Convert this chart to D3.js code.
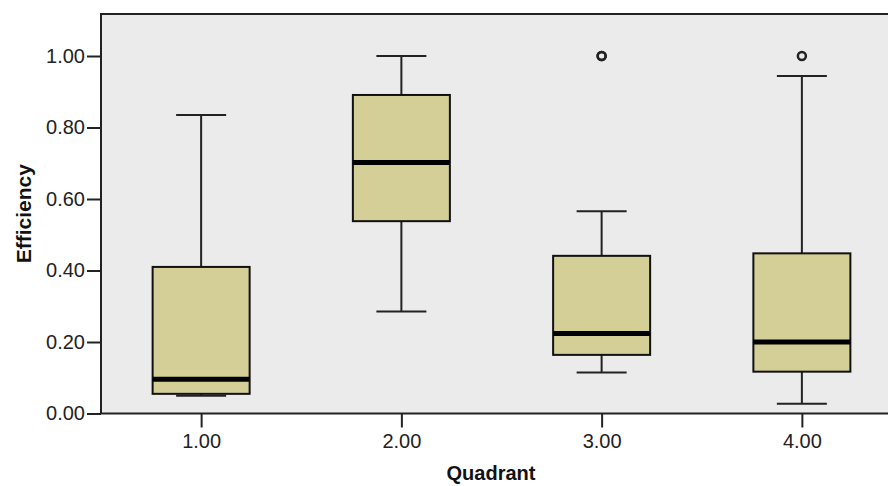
<!DOCTYPE html>
<html>
<head>
<meta charset="utf-8">
<script src="https://cdn.jsdelivr.net/npm/d3@7"></script>
<style>
  body { margin: 0; background: #fff; }
  svg { display: block; font-family: "Liberation Sans", Arial, sans-serif; }
</style>
</head>
<body>
<svg id="chart" width="888" height="486"></svg>
<script>
// quadrant categories and box statistics
const quadrants = ['1.00', '2.00', '3.00', '4.00'];
const lowWhisker = [0.050, 0.285, 0.115, 0.027];
const q1 = [0.055, 0.538, 0.164, 0.117];
const median = [0.096, 0.702, 0.224, 0.200];
const q3 = [0.410, 0.891, 0.441, 0.448];
const highWhisker = [0.835, 1.000, 0.566, 0.944];
const outliers = [[], [], [1.00, 1.00], [1.00]];
const yTicks = [0, 0.2, 0.4, 0.6, 0.8, 1.0];

const svg = d3.select('#chart');
const plotL = 101, plotR = 902, plotT = 14, plotB = 413.5;

const x = d3.scalePoint().domain(quadrants).range([plotL, plotR]).padding(0.5);
const y = d3.scaleLinear().domain([0, 1]).range([plotB, 56]);

// plot background
svg.append('rect')
    .attr('x', plotL).attr('y', plotT)
    .attr('width', plotR - plotL).attr('height', plotB - plotT)
    .attr('fill', '#ebebeb');

const boxW = 97, capW = 50;
const boxes = quadrants.map((q, i) => ({
    q: q, lo: lowWhisker[i], q1: q1[i], med: median[i], q3: q3[i], hi: highWhisker[i], out: outliers[i]
}));

const g = svg.append('g').classed('boxes', true);
const b = g.selectAll('g').data(boxes).enter().append('g');

// whiskers
b.append('line')
    .attr('x1', d => x(d.q)).attr('x2', d => x(d.q))
    .attr('y1', d => y(d.q3)).attr('y2', d => y(d.hi))
    .attr('stroke', '#222').attr('stroke-width', 2);
b.append('line')
    .attr('x1', d => x(d.q)).attr('x2', d => x(d.q))
    .attr('y1', d => y(d.q1)).attr('y2', d => y(d.lo))
    .attr('stroke', '#222').attr('stroke-width', 2);
b.append('line')
    .attr('x1', d => x(d.q) - capW / 2).attr('x2', d => x(d.q) + capW / 2)
    .attr('y1', d => y(d.hi)).attr('y2', d => y(d.hi))
    .attr('stroke', '#222').attr('stroke-width', 2);
b.append('line')
    .attr('x1', d => x(d.q) - capW / 2).attr('x2', d => x(d.q) + capW / 2)
    .attr('y1', d => y(d.lo)).attr('y2', d => y(d.lo))
    .attr('stroke', '#222').attr('stroke-width', 2);

// boxes
b.append('rect')
    .attr('x', d => x(d.q) - boxW / 2)
    .attr('y', d => y(d.q3))
    .attr('width', boxW)
    .attr('height', d => y(d.q1) - y(d.q3))
    .attr('fill', '#d4cf97')
    .attr('stroke', '#111')
    .attr('stroke-width', 2);

// median
b.append('line')
    .attr('x1', d => x(d.q) - boxW / 2).attr('x2', d => x(d.q) + boxW / 2)
    .attr('y1', d => y(d.med)).attr('y2', d => y(d.med))
    .attr('stroke', '#000').attr('stroke-width', 5);

// outliers
b.each(function (d) {
    d3.select(this).selectAll('circle')
        .data(d.out)
        .enter()
        .append('circle')
        .attr('cx', x(d.q))
        .attr('cy', v => y(v))
        .attr('r', 4)
        .attr('fill', 'none')
        .attr('stroke', '#222')
        .attr('stroke-width', 2.5);
});

// frame
svg.append('path')
    .attr('d', `M${plotR},${plotT}H${plotL}V${plotB}H${plotR}`)
    .attr('fill', 'none')
    .attr('stroke', '#222')
    .attr('stroke-width', 2);

// axes
const yAxis = svg.append('g')
    .attr('transform', `translate(${plotL},0)`)
    .call(d3.axisLeft(y).tickValues(yTicks).tickFormat(d3.format('.2f')).tickSize(14).tickSizeOuter(0).tickPadding(2));
const xAxis = svg.append('g')
    .attr('transform', `translate(0,${plotB})`)
    .call(d3.axisBottom(x).tickSize(14).tickSizeOuter(0).tickPadding(6));

[yAxis, xAxis].forEach(a => {
    a.select('.domain').remove();
    a.selectAll('.tick line').attr('stroke', '#222').attr('stroke-width', 2);
    a.selectAll('.tick text')
        .attr('fill', '#222')
        .attr('font-size', 20)
        .attr('font-family', '"Liberation Sans", Arial, sans-serif');
});

// axis titles
svg.append('text')
    .attr('x', 491).attr('y', 480)
    .attr('text-anchor', 'middle')
    .attr('font-size', 20).attr('font-weight', 'bold')
    .attr('fill', '#111')
    .text('Quadrant');
svg.append('text')
    .attr('transform', `translate(31,${(plotT + plotB) / 2}) rotate(-90)`)
    .attr('text-anchor', 'middle')
    .attr('font-size', 21).attr('font-weight', 'bold')
    .attr('fill', '#111')
    .text('Efficiency');
</script>
</body>
</html>
